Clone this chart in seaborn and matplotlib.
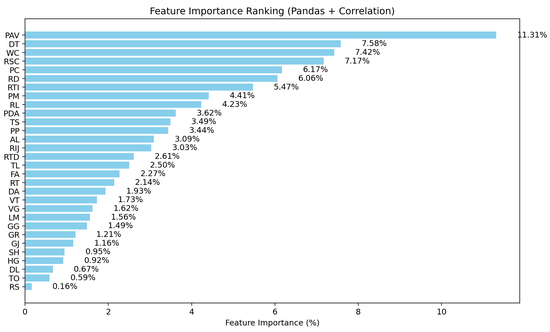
import io
import matplotlib
matplotlib.use("Agg")
import matplotlib.pyplot as plt
import seaborn as sns
import pandas as pd

features = ["PAV", "DT", "WC", "RSC", "PC", "RD", "RTI", "PM", "RL", "PDA",
            "TS", "PP", "AL", "RIJ", "RTD", "TL", "FA", "RT", "DA", "VT",
            "VG", "LM", "GG", "GR", "GJ", "SH", "HG", "DL", "TO", "RS"]
importance = [11.31, 7.58, 7.42, 7.17, 6.17, 6.06, 5.47, 4.41, 4.23, 3.62,
              3.49, 3.44, 3.09, 3.03, 2.61, 2.50, 2.27, 2.14, 1.93, 1.73,
              1.62, 1.56, 1.49, 1.21, 1.16, 0.95, 0.92, 0.67, 0.59, 0.16]

df = pd.DataFrame({"Feature": features, "Importance": importance})

plt.rcParams["font.family"] = ["DejaVu Sans"]
fig, ax = plt.subplots(figsize=(10, 6.036), dpi=55)
sns.barplot(data=df, y="Feature", x="Importance", color="skyblue",
            saturation=1, orient="h", ax=ax, width=0.8)

n = len(features)
for i, v in enumerate(importance):
    ax.text(v + 0.5, i, f"{v:.2f}%", va="center", ha="left", fontsize=10.4)

ax.set_xlim(0, max(importance) * 1.05)
pad = 0.4 + 0.05 * (n - 1 + 0.8)
ax.set_ylim(n - 1 + pad, -pad)
ax.set_xlabel("Feature Importance (%)", fontsize=10.4)
ax.set_ylabel("")
ax.tick_params(labelsize=10.4)
ax.set_title("Feature Importance Ranking (Pandas + Correlation)", fontsize=12.4)
for s in ax.spines.values():
    s.set_visible(True)
fig.subplots_adjust(left=0.0455, right=0.945, top=0.943, bottom=0.0873)

try:
    from PIL import Image
    buf = io.BytesIO()
    fig.savefig(buf, dpi=220, format="png")
    buf.seek(0)
    img = Image.open(buf).convert("RGB")
    img = img.resize((550, 332), Image.LANCZOS)
    img.save("out.png")
except Exception:
    fig.savefig("out.png", dpi=55)
